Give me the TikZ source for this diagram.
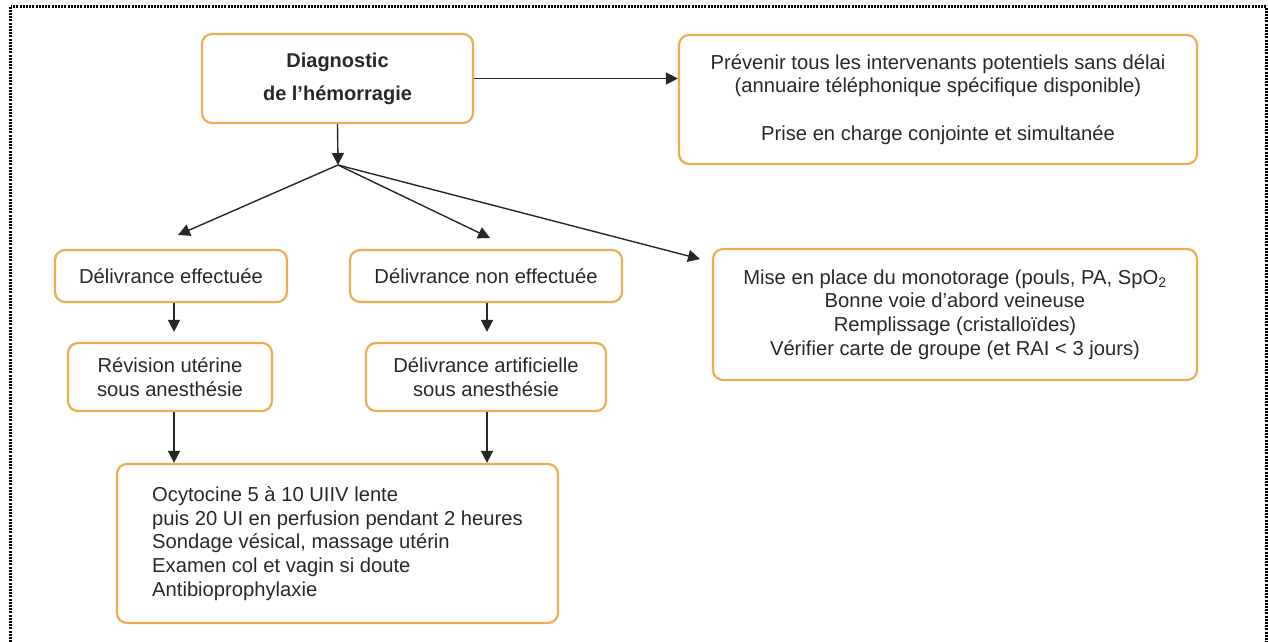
\documentclass[tikz,border=0pt]{standalone}
\usepackage{fontspec}
\setmainfont{Liberation Sans}
\usetikzlibrary{arrows.meta}
\definecolor{boxor}{RGB}{240,172,80}
\definecolor{txt}{RGB}{40,40,40}
\begin{document}
\begin{tikzpicture}[x=1pt,y=-1pt,
  box/.style={draw=boxor, line width=2.2pt, rounded corners=10pt, text=txt,
    font=\fontsize{20.2}{23.8}\selectfont, align=center, inner sep=0pt},
  arr/.style={draw=black!85, line width=1.4pt, -{Triangle[length=12pt,width=12pt]}},
  frame/.style={draw=black, line width=2.2pt, dash pattern=on 2pt off 1.2pt}]
\useasboundingbox (0,0) rectangle (1268,641);
\draw[frame] (10.5,6.5) rectangle (1266.5,700);

\node[box, minimum width=271pt, minimum height=89pt,
  font=\bfseries\fontsize{20}{33}\selectfont] (diag) at (337.5,78.5)
  {Diagnostic\\de l’hémorragie};
\node[box, minimum width=518pt, minimum height=129pt] (prev) at (938,99.5)
  {Prévenir tous les intervenants potentiels sans délai\\(annuaire téléphonique spécifique disponible)\\[23.8pt]Prise en charge conjointe et simultanée};
\node[box, minimum width=232pt, minimum height=52pt] (de) at (171,276)
  {Délivrance effectuée};
\node[box, minimum width=272pt, minimum height=52pt] (dne) at (486,276)
  {Délivrance non effectuée};
\node[box, minimum width=484pt, minimum height=131pt] (mise) at (955,314.5)
  {Mise en place du monotorage (pouls, PA, SpO\textsubscript{2}\\Bonne voie d’abord veineuse\\Remplissage (cristalloïdes)\\Vérifier carte de groupe (et RAI < 3 jours)};
\node[box, minimum width=204pt, minimum height=68pt] (rev) at (170,377)
  {Révision utérine\\sous anesthésie};
\node[box, minimum width=240pt, minimum height=68pt] (art) at (486,377)
  {Délivrance artificielle\\sous anesthésie};
\node[box, minimum width=441pt, minimum height=159pt, align=left] (ocy) at (337.5,543.5)
  {Ocytocine 5 à 10 UIIV lente\\puis 20 UI en perfusion pendant 2 heures\\Sondage vésical, massage utérin\\Examen col et vagin si doute\\Antibioprophylaxie};

\coordinate (br) at (338,165);
\coordinate (t1) at (178,235);
\coordinate (t2) at (490,238);
\coordinate (t3) at (700,259);

\draw[arr] (diag.east) -- (diag.east -| prev.west);
\draw[arr] (diag.south) -- (br);
\draw[arr] (br) -- (t1);
\draw[arr] (br) -- (t2);
\draw[arr] (br) -- (t3);
\draw[arr, shorten >=10pt] ([xshift=3pt]de.south) -- ([xshift=3pt]de.south |- rev.north);
\draw[arr, shorten >=10pt] ([xshift=1pt]dne.south) -- ([xshift=1pt]dne.south |- art.north);
\draw[arr] ([xshift=4pt]rev.south) -- ([xshift=4pt]rev.south |- ocy.north);
\draw[arr] ([xshift=1pt]art.south) -- ([xshift=1pt]art.south |- ocy.north);
\end{tikzpicture}
\end{document}
